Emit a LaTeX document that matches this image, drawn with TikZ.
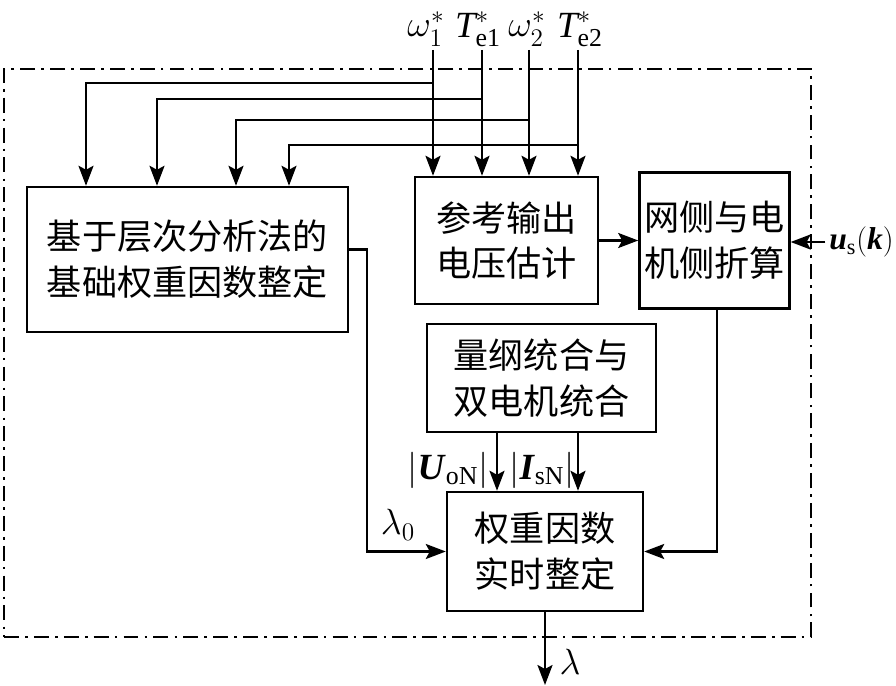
\documentclass[tikz,border=0pt]{standalone}
\usepackage{bm}
\usepackage{fontspec}
\setmainfont{Liberation Serif}
\newfontfamily\cjk{Noto Sans CJK SC}
\usetikzlibrary{positioning,arrows.meta}
\newcommand{\bvar}[1]{\textbf{\textit{#1}}}
\newcommand{\ivar}[1]{\textit{#1}}
\tikzset{
	wtbox/.style={
		draw,
		line width=1.4pt,
		align=center,
		inner sep=2pt,
		font=\cjk\fontsize{20}{26}\selectfont
	},
	wtFlow/.style={-{Stealth[length=4mm,width=3mm,inset=0.8mm]}, line width=1.4pt},
	wtFrame/.style={draw, line width=1.3pt, dash pattern=on 8.5pt off 3.5pt on 1.5pt off 3.5pt},
	wtMath/.style={inner sep=0pt, font=\fontsize{21}{25}\selectfont}
}

\begin{document}
\begin{tikzpicture}[x=0.02cm, y=-0.02cm]
	\useasboundingbox (0,0) rectangle (896,686);

	% outer frame
	\node[wtFrame, minimum width=16.14cm, minimum height=11.36cm] (frame) at (407.5,353) {};

	% blocks
	\node[wtbox, minimum width=6.42cm, minimum height=2.9cm] (base) at (187.5,259.5)
	{基于层次分析法的\\基础权重因数整定};
	\node[wtbox, minimum width=3.66cm, minimum height=2.54cm] (ref) at (506.5,240.5)
	{参考输出\\电压估计};
	\node[wtbox, right=0.78cm of ref, minimum width=3cm, minimum height=2.72cm] (grid)
	{网侧与电\\机侧折算};
	\node[wtbox, minimum width=4.58cm, minimum height=2.16cm] (dim) at (541.5,378)
	{量纲统合与\\双电机统合};
	\node[wtbox, minimum width=3.92cm, minimum height=2.38cm] (wt) at (545,551.5)
	{权重因数\\实时整定};

	% inputs and outputs
	\node[wtMath] (w1) at (426,29) {$\omega_1^*$};
	\node[wtMath] (te1) at (478,29) {$\ivar{T}_{\mathrm{e1}}^*$};
	\node[wtMath] (w2) at (527,29) {$\omega_2^*$};
	\node[wtMath] (te2) at (580,29) {$\ivar{T}_{\mathrm{e2}}^*$};
	\node[wtMath, anchor=east, font=\fontsize{18}{22}\selectfont] (us) at (894,242) {$\bvar{u}_{\mathrm{s}}(\bvar{k})$};
	\node[wtMath] (uon) at (448,470) {$|\bvar{U}_{\mathrm{oN}}|$};
	\node[wtMath] (isn) at (542,470) {$|\bvar{I}_{\mathrm{sN}}|$};
	\node[wtMath] (lam0) at (398,525) {$\lambda_0$};
	\node[wtMath] (lam) at (570,662) {$\lambda$};

	% reference signals, with branches to the left block
	\foreach \i/\xin/\yb/\xd in {1/433/83/86, 2/482/99/157, 3/529/120/236, 4/578/145/289} {
		\coordinate (in\i) at (\xin,50);
		\coordinate (br\i) at (\xin,\yb);
		\draw[wtFlow] (in\i) -- (in\i |- ref.north);
		\draw[wtFlow] (br\i) -| (\xd,0 |- base.north);
	}

	% flows
	\draw[wtFlow] (ref.east) -- (grid.west);
	\draw[wtFlow] ([xshift=-2pt]us.west) -- (us.west -| grid.east);
	\coordinate (gd) at (717,0);
	\draw[wtFlow] (gd |- grid.south) |- (wt.east);
	\coordinate (bt) at (367,0);
	\draw[wtFlow] ([yshift=0.2cm]base.east) -| (bt |- wt.west) -- (wt.west);
	\draw[wtFlow] ([xshift=-0.89cm]dim.south) -- ([xshift=-0.89cm]dim.south |- wt.north);
	\draw[wtFlow] ([xshift=0.73cm]dim.south) -- ([xshift=0.73cm]dim.south |- wt.north);
	\coordinate (out) at (545,685);
	\draw[wtFlow] (wt.south) -- (wt.south |- out);

\end{tikzpicture}
\end{document}
